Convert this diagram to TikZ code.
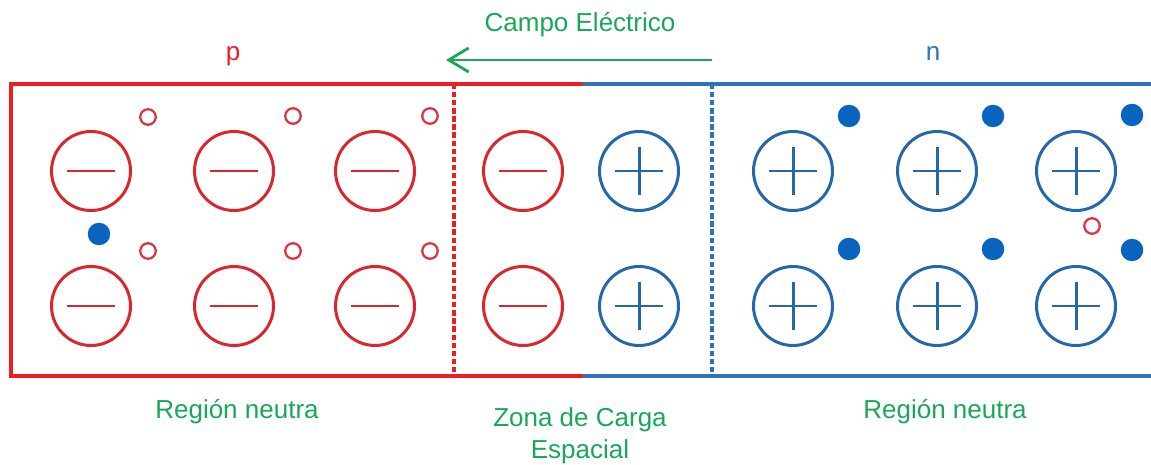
\documentclass[tikz,border=0pt]{standalone}
\usepackage{fontspec}
\setmainfont{Liberation Sans}
\usepackage{tikz}
\usetikzlibrary{arrows.meta}
\usepackage{xcolor}
\definecolor{framered}{RGB}{236,30,36}
\definecolor{ionred}{RGB}{218,38,46}
\definecolor{holered}{RGB}{214,58,64}
\definecolor{frameblue}{RGB}{46,116,182}
\definecolor{ionblue}{RGB}{36,104,170}
\definecolor{dotblue}{RGB}{8,100,190}
\definecolor{labelgreen}{RGB}{24,168,88}

\begin{document}
\begin{tikzpicture}[x=0.02cm,y=-0.02cm,
  ionneg/.style={circle, draw=ionred, line width=1.7pt, minimum size=1.58cm, inner sep=0pt,
    path picture={\draw[ionred, line width=1.7pt] ([xshift=-0.48cm]path picture bounding box.center) -- ([xshift=0.48cm]path picture bounding box.center);}},
  ionpos/.style={circle, draw=ionblue, line width=1.7pt, minimum size=1.58cm, inner sep=0pt,
    path picture={\draw[ionblue, line width=1.7pt] ([xshift=-0.48cm]path picture bounding box.center) -- ([xshift=0.48cm]path picture bounding box.center)
      ([yshift=-0.48cm]path picture bounding box.center) -- ([yshift=0.48cm]path picture bounding box.center);}},
  hole/.style={circle, draw=holered, line width=1.3pt, minimum size=0.31cm, inner sep=0pt},
  electron/.style={circle, fill=dotblue, minimum size=0.45cm, inner sep=0pt},
  label/.style={text=labelgreen, font=\fontsize{14.8pt}{18.2pt}\selectfont}]
\useasboundingbox (0,0) rectangle (1151,465);

% p side of the junction
\draw[line width=2pt, color=framered] (583,84) -- (11,84) -- (11,376) -- (583,376);
\draw[line width=1.8pt, color=framered, dash pattern=on 3pt off 1.6pt] (454,84) -- (454,376);
% n side of the junction
\draw[line width=2pt, color=frameblue] (583,84) -- (1151,84) (583,376) -- (1151,376);
\draw[line width=1.8pt, color=frameblue, dash pattern=on 3pt off 1.6pt] (712,84) -- (712,376);

\node[text=framered, font=\fontsize{14.8pt}{17pt}\selectfont, anchor=base] (ptype) at (233,61) {p};
\node[text=frameblue, font=\fontsize{14.8pt}{17pt}\selectfont, anchor=base] (ntype) at (933,61) {n};

% acceptor ions
\node[ionneg] (a1) at (91,171) {};
\node[ionneg] (a2) at (234,171) {};
\node[ionneg] (a3) at (375,171) {};
\node[ionneg] (a4) at (523,171) {};
\node[ionneg] (a5) at (91,306) {};
\node[ionneg] (a6) at (234,306) {};
\node[ionneg] (a7) at (375,306) {};
\node[ionneg] (a8) at (523,306) {};

% donor ions
\node[ionpos] (d1) at (639,171) {};
\node[ionpos] (d2) at (793,171) {};
\node[ionpos] (d3) at (937,171) {};
\node[ionpos] (d4) at (1076,171) {};
\node[ionpos] (d5) at (639,306) {};
\node[ionpos] (d6) at (793,306) {};
\node[ionpos] (d7) at (937,306) {};
\node[ionpos] (d8) at (1076,306) {};

% holes and electrons
\node[hole] (h1) at (148,117) {};
\node[hole] (h2) at (293,116) {};
\node[hole] (h3) at (430,116) {};
\node[hole] (h4) at (148,251) {};
\node[hole] (h5) at (293,251) {};
\node[hole] (h6) at (430,251) {};
\node[hole] (h7) at (1092,226) {};
\node[electron] (e1) at (99,234) {};
\node[electron] (e2) at (849,116) {};
\node[electron] (e3) at (993,116) {};
\node[electron] (e4) at (1132,115) {};
\node[electron] (e5) at (849,249) {};
\node[electron] (e6) at (993,249) {};
\node[electron] (e7) at (1132,250) {};

% field
\node[label, anchor=base] (field) at (580,32) {Campo Eléctrico};
\coordinate (fieldstart) at (712,60);
\coordinate (fieldend) at (446,60);
\draw[line width=1.6pt, color=labelgreen, -{Straight Barb[length=0.4cm, width=0.48cm, line width=1.6pt]}] (fieldstart) -- (fieldend);

% region names
\node[label, anchor=base] (neutralp) at (237,418) {Región neutra};
\node[label, anchor=base] (neutraln) at (945,418) {Región neutra};
\node[label, align=center] (zone) at (580,436) {Zona de Carga\\Espacial};
\end{tikzpicture}
\end{document}
